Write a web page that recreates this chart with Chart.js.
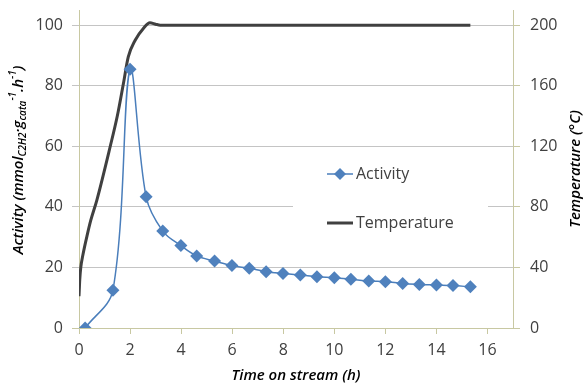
<!DOCTYPE html>
<html><head><meta charset="utf-8">
<script src="https://cdn.jsdelivr.net/npm/chart.js@4"></script>
<style>html,body{margin:0;padding:0;background:#fff}canvas{display:block}</style>
</head><body>
<canvas id="c" width="585" height="387"></canvas>
<script>
const activityTime = [0.24, 1.33, 2.0, 2.63, 3.28, 3.99, 4.61, 5.31, 5.99, 6.67, 7.33, 7.99, 8.67, 9.32, 10.0, 10.65, 11.35, 12.0, 12.68, 13.33, 14.0, 14.65, 15.33];
const activityValues = [0, 12.5, 85.4, 43.3, 32.0, 27.2, 23.8, 22.1, 20.6, 19.7, 18.6, 18.0, 17.5, 16.9, 16.6, 16.1, 15.5, 15.3, 14.7, 14.4, 14.2, 14.0, 13.6];
const temperatureTime = [0, 0.03, 0.07, 0.15, 0.33, 0.46, 0.7, 1.22, 1.5, 1.74, 1.93, 2.2, 2.52, 2.78, 3.0, 3.18, 15.33];
const temperatureValues = [21, 32, 40, 48, 62, 71, 84.5, 119.7, 140, 161.5, 179, 190, 197.8, 201.5, 200.6, 200, 200];
const xTicks = [0, 2, 4, 6, 8, 10, 12, 14, 16];
const activityTicks = [0, 20, 40, 60, 80, 100];
const temperatureTicks = [0, 40, 80, 120, 160, 200];
const seriesNames = ['Activity', 'Temperature'];
const xTitle = 'Time on stream (h)';
const y2Title = 'Temperature (°C)';
const yTitleParts = [
  ['Activity (mmol', 'n'], ['C2H2', 'sub'], ['·g', 'n'], ['cata', 'sub'], ['-1', 'sup'],
  ['.h', 'n'], ['-1', 'sup'], [')', 'n']
];

const FONT = "'Open Sans', 'DejaVu Sans', sans-serif";
const OLIVE = '#c8c8a2';
const GRID = '#c4c4c4';
const BLUE = '#4a7ebb';
const MARK = '#4f81bd';
const DARK = '#404040';
const TEXT = '#404040';

const titlesPlugin = {
  id: 'titles',
  afterDraw(chart) {
    const ctx = chart.ctx;
    const area = chart.chartArea;
    ctx.save();
    ctx.fillStyle = '#000';
    ctx.font = "italic 600 15px " + FONT;
    ctx.textAlign = 'center';
    ctx.textBaseline = 'middle';
    ctx.fillText(xTitle, (area.left + area.right) / 2, 376);
    ctx.save();
    ctx.translate(576, (area.top + area.bottom) / 2);
    ctx.rotate(-Math.PI / 2);
    ctx.fillText(y2Title, 0, 0);
    ctx.restore();
    const fontFor = s => s === 'n' ? "italic 600 15px " + FONT : "italic 600 10px " + FONT;
    let total = 0;
    for (const [t, s] of yTitleParts) { ctx.font = fontFor(s); total += ctx.measureText(t).width; }
    ctx.save();
    ctx.translate(19, 160);
    ctx.rotate(-Math.PI / 2);
    ctx.textAlign = 'left';
    let x = -total / 2;
    for (const [t, s] of yTitleParts) {
      ctx.font = fontFor(s);
      const dy = s === 'sub' ? 4 : (s === 'sup' ? -6 : 0);
      ctx.fillText(t, x, dy);
      x += ctx.measureText(t).width;
    }
    ctx.restore();
    ctx.restore();
  }
};

const legendPlugin = {
  id: 'boxLegend',
  beforeDatasetsDraw(chart) {
    const ctx = chart.ctx;
    ctx.save();
    ctx.fillStyle = '#fff';
    ctx.fillRect(293, 152, 195, 94);
    ctx.restore();
  },
  afterDatasetsDraw(chart) {
    const ctx = chart.ctx;
    ctx.save();
    ctx.strokeStyle = BLUE; ctx.lineWidth = 1.5;
    ctx.beginPath(); ctx.moveTo(327, 174); ctx.lineTo(353, 174); ctx.stroke();
    ctx.fillStyle = MARK;
    ctx.beginPath(); ctx.moveTo(340, 168); ctx.lineTo(346, 174); ctx.lineTo(340, 180); ctx.lineTo(334, 174); ctx.closePath(); ctx.fill();
    ctx.strokeStyle = DARK; ctx.lineWidth = 3;
    ctx.beginPath(); ctx.moveTo(327, 223); ctx.lineTo(353, 223); ctx.stroke();
    ctx.fillStyle = TEXT;
    ctx.font = "16px " + FONT;
    ctx.textAlign = 'left'; ctx.textBaseline = 'middle';
    ctx.fillText(seriesNames[0], 356, 174);
    ctx.fillText(seriesNames[1], 356, 223);
    ctx.restore();
  }
};

const tickFont = { family: FONT, size: 16 };
const noPad = s => { s.paddingTop = 0; s.paddingBottom = 0; s.paddingLeft = 0; s.paddingRight = 0; };

new Chart(document.getElementById('c'), {
  type: 'scatter',
  data: {
    datasets: [
      {
        label: seriesNames[0],
        data: activityTime.map((t, i) => ({ x: t, y: activityValues[i] })),
        yAxisID: 'y',
        showLine: true,
        borderColor: BLUE,
        borderWidth: 1.5,
        backgroundColor: MARK,
        pointBackgroundColor: MARK,
        pointBorderColor: MARK,
        pointBorderWidth: 0,
        pointStyle: 'rectRot',
        pointRadius: 6.5,
        tension: 0.35,
        order: 1
      },
      {
        label: seriesNames[1],
        data: temperatureTime.map((t, i) => ({ x: t, y: temperatureValues[i] })),
        yAxisID: 'y2',
        showLine: true,
        borderColor: DARK,
        borderWidth: 3,
        pointRadius: 0,
        cubicInterpolationMode: 'monotone',
        order: 2
      }
    ]
  },
  options: {
    responsive: false,
    animation: false,
    devicePixelRatio: 1,
    layout: { padding: { top: 10, left: 0, right: 0, bottom: 0 } },
    plugins: { legend: { display: false }, tooltip: { enabled: false } },
    scales: {
      x: {
        type: 'linear', min: 0, max: 17,
        afterBuildTicks: s => { s.ticks = xTicks.map(v => ({ value: v })); },
        afterFit: s => { s.height = 59; noPad(s); },
        grid: { drawOnChartArea: false, drawTicks: true, tickLength: 6, tickColor: OLIVE, color: OLIVE },
        border: { color: OLIVE, width: 1 },
        ticks: { font: tickFont, color: TEXT, padding: 7, maxRotation: 0 }
      },
      y: {
        type: 'linear', position: 'left', min: 0, max: 105,
        afterBuildTicks: s => { s.ticks = activityTicks.map(v => ({ value: v })); },
        afterFit: s => { s.width = 79; noPad(s); },
        grid: {
          color: c => (c.tick && c.tick.value === 0) ? OLIVE : GRID,
          tickColor: c => (c.tick && c.tick.value === 0) ? OLIVE : GRID,
          tickLength: 7, lineWidth: 1
        },
        border: { color: OLIVE, width: 1 },
        ticks: { font: tickFont, color: TEXT, padding: 9 }
      },
      y2: {
        type: 'linear', position: 'right', min: 0, max: 210,
        afterBuildTicks: s => { s.ticks = temperatureTicks.map(v => ({ value: v })); },
        afterFit: s => { s.width = 72; noPad(s); },
        grid: { drawOnChartArea: false, tickLength: 7, tickColor: OLIVE, color: OLIVE },
        border: { color: OLIVE, width: 1 },
        ticks: { font: tickFont, color: TEXT, padding: 10 }
      }
    }
  },
  plugins: [legendPlugin, titlesPlugin]
});
</script>
</body></html>
